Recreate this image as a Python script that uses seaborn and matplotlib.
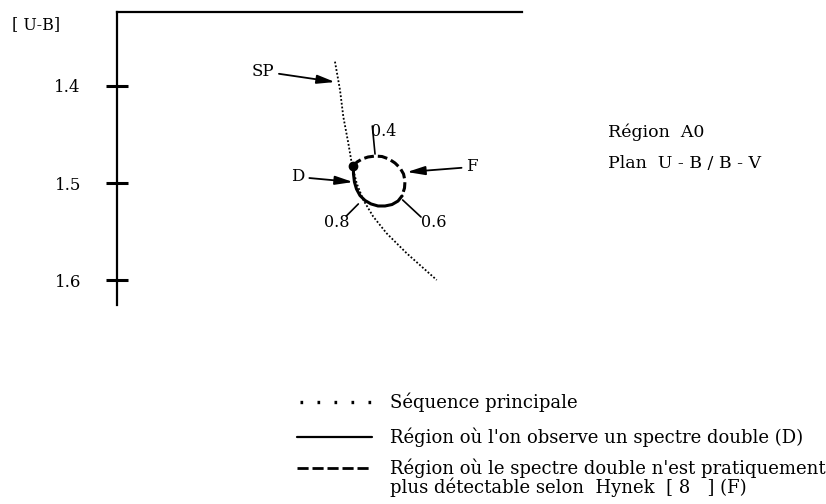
import numpy as np
import pandas as pd
import seaborn as sns
import matplotlib.pyplot as plt
from matplotlib.lines import Line2D

# main sequence (SP) : B-V (arbitrary origin) / U-B
sp_bv = [0.2247, 0.2299, 0.2333, 0.2385, 0.2420, 0.2471, 0.2539, 0.2642, 0.2780, 0.2987, 0.3296]
sp_ub = [1.3749, 1.4041, 1.4316, 1.4591, 1.4797, 1.5003, 1.5175, 1.5347, 1.5519, 1.5725, 1.6000]

# loop : part where the double spectrum is hardly detectable (F, dashed)
f_bv = [0.2436, 0.2474, 0.2526, 0.2588, 0.2660, 0.2732, 0.2804, 0.2866, 0.2918, 0.2954, 0.2969, 0.2964, 0.2938]
f_ub = [1.4825, 1.4784, 1.4753, 1.4732, 1.4722, 1.4727, 1.4753, 1.4794, 1.4845, 1.4907, 1.4979, 1.5052, 1.5134]

# loop : part where a double spectrum is observed (D, solid)
d_bv = [0.2938, 0.2897, 0.2835, 0.2763, 0.2691, 0.2619, 0.2557, 0.2505, 0.2469, 0.2448, 0.2438, 0.2436]
d_ub = [1.5134, 1.5186, 1.5222, 1.5237, 1.5237, 1.5216, 1.5180, 1.5129, 1.5062, 1.4990, 1.4907, 1.4825]

start_bv, start_ub = 0.2436, 1.4825

# marks along the loop
mark_text = ['0.4', '0.6', '0.8']
mark_bv = [0.2660, 0.2945, 0.2488]
mark_ub = [1.4701, 1.5175, 1.5216]

ub_ticks = [1.4, 1.5, 1.6]

sp = pd.DataFrame({'bv': sp_bv, 'ub': sp_ub})
fpart = pd.DataFrame({'bv': f_bv, 'ub': f_ub})
dpart = pd.DataFrame({'bv': d_bv, 'ub': d_ub})

sns.set_style('white')
plt.rcParams['font.family'] = ['DejaVu Serif']
plt.rcParams['text.color'] = 'black'
plt.rcParams['axes.labelcolor'] = 'black'
plt.rcParams['ytick.color'] = 'black'

W, H = 826, 504
fig = plt.figure(figsize=(W / 100, H / 100), dpi=100)
ax = fig.add_axes([117 / W, 1 - 305 / H, 405 / W, 293 / H])

sns.lineplot(data=sp, x='bv', y='ub', sort=False, estimator=None, ax=ax,
             color='black', lw=1.3, linestyle=(0, (1, 1.1)))
sns.lineplot(data=fpart, x='bv', y='ub', sort=False, estimator=None, ax=ax,
             color='black', lw=2.2, linestyle=(0, (3.2, 1.3)))
sns.lineplot(data=dpart, x='bv', y='ub', sort=False, estimator=None, ax=ax,
             color='black', lw=2.2)
ax.plot([start_bv], [start_ub], 'o', color='black', ms=6)

ax.set_xlim(0, 405 / 970)
ax.set_ylim(1.6 + 25 / 970, 1.4 - 74 / 970)
ax.set_xticks([])
ax.set_yticks(ub_ticks)
ax.set_yticklabels([f'{t:.1f}' for t in ub_ticks])
ax.tick_params(axis='y', direction='inout', length=16, width=2.2, pad=18,
               labelsize=12, left=True, colors='black')
for side in ['right', 'bottom']:
    ax.spines[side].set_visible(False)
for side in ['top', 'left']:
    ax.spines[side].set_linewidth(1.6)
    ax.spines[side].set_color('black')
ax.set_xlabel('')
ax.set_ylabel('[ U-B]', rotation=0, fontsize=11.5, ha='center', va='center')
ax.yaxis.set_label_coords(-0.2, 0.956)

# marks on the loop
offs = [(-0.0041, -0.0227, 'left', (0.05, 0.85)),
        (0.0189, 0.0237, 'left', (0.0, 0.85)),
        (-0.0086, 0.0196, 'right', (0.85, 0.9))]
for t, x, y, (dx, dy, ha, rp) in zip(mark_text, mark_bv, mark_ub, offs):
    ax.annotate(t, xy=(x, y), xytext=(x + dx, y + dy), ha=ha, va='center',
                fontsize=11.5,
                arrowprops=dict(arrowstyle='-', lw=1.2, color='black',
                                shrinkA=0, shrinkB=0, relpos=rp, patchA=None))

# pointers
arrow = dict(arrowstyle='-|>,head_length=0.9,head_width=0.22', lw=1.3,
             color='black', mutation_scale=12, shrinkA=1, shrinkB=0)
ax.annotate('SP', xy=(0.2247, 1.3959), xytext=(0.1505, 1.3850), ha='center',
            va='center', fontsize=12, arrowprops=arrow)
ax.annotate('D', xy=(0.2433, 1.4990), xytext=(0.1866, 1.4938), ha='center',
            va='center', fontsize=12, arrowprops=arrow)
ax.annotate('F', xy=(0.2990, 1.4887), xytext=(0.3660, 1.4835), ha='center',
            va='center', fontsize=12, arrowprops=arrow)

fig.text(608 / W, 1 - 132 / H, 'Région  A0', fontsize=12.5, va='center')
fig.text(608 / W, 1 - 163 / H, 'Plan  U - B / B - V', fontsize=12.5, va='center')

# key, drawn as two stacked legends (last entry spans two lines)
key_a = [Line2D([], [], color='black', lw=2.4, linestyle=(4.2, (0.8, 4.3))),
         Line2D([], [], color='black', lw=1.6)]
lab_a = ['Séquence principale',
         "Région où l'on observe un spectre double (D)"]
key_b = [Line2D([], [], color='black', lw=2.0, linestyle=(0, (4, 1.4))),
         Line2D([], [], color='none')]
lab_b = ["Région où le spectre double n'est pratiquement",
         'plus détectable selon  Hynek  [ 8   ] (F)']
style = dict(loc='upper left', frameon=False, fontsize=13, handlelength=4.15,
             handletextpad=1.0, borderaxespad=0, borderpad=0)
fig.legend(key_a, lab_a, bbox_to_anchor=(297 / W, 1 - 393 / H),
           labelspacing=0.85, **style)
fig.legend(key_b, lab_b, bbox_to_anchor=(297 / W, 1 - 459 / H),
           labelspacing=-0.05, **style)

fig.savefig('out.png', dpi=100, facecolor='white')
